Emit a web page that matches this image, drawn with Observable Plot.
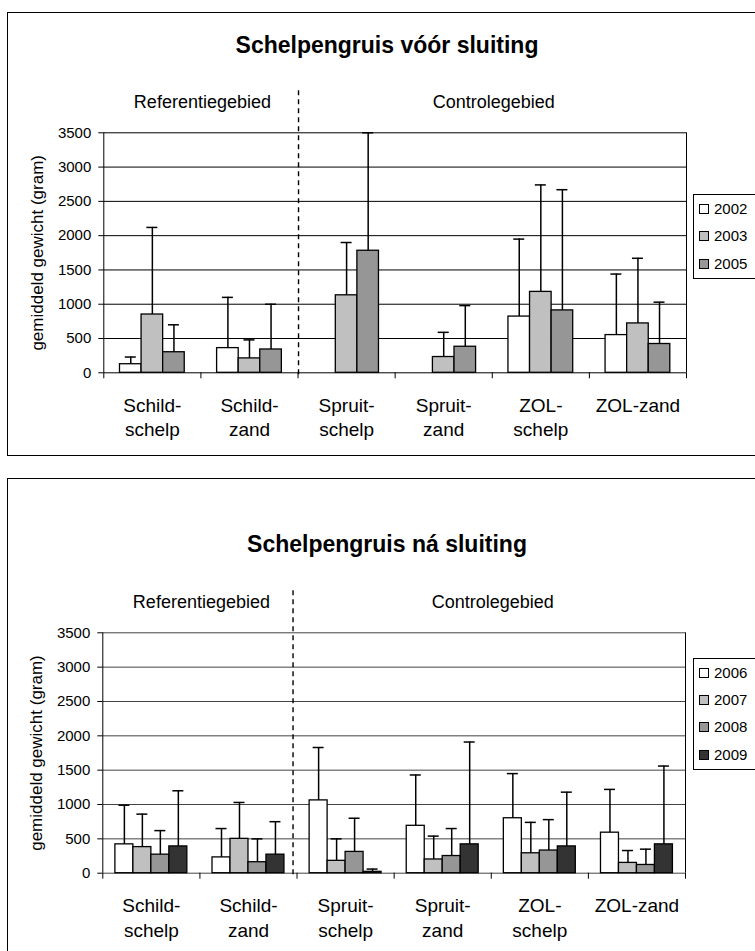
<!DOCTYPE html>
<html>
<head>
<meta charset="utf-8">
<script src="https://cdn.jsdelivr.net/npm/d3@7"></script>
<script src="https://cdn.jsdelivr.net/npm/@observablehq/plot@0.6"></script>
<style>
  html, body { margin: 0; padding: 0; background: #fff; }
  body { width: 755px; height: 951px; position: relative; overflow: hidden;
         font-family: "Liberation Sans", Arial, sans-serif; color: #000; }
  .box { position: absolute; left: 7px; width: 800px; border: 1px solid #000; box-sizing: border-box; }
  .title { position: absolute; left: 0; width: 774px; text-align: center;
           font-weight: bold; font-size: 23px; line-height: 23px; white-space: nowrap; }
  .chart { position: absolute; left: 0; width: 755px; height: 460px; }
  .legend { position: absolute; left: 693px; width: 100px; border: 1px solid #000;
            box-sizing: border-box; background: #fff; }
  .legend .item { position: absolute; left: 5px; height: 18px; display: flex; align-items: center;
                  font-size: 15px; line-height: 18px; }
  .legend .swatch { width: 8px; height: 8px; border: 1px solid #000; margin-right: 5px; }
</style>
</head>
<body>
<script>
// Sampling locations (x axis) and their two-line tick labels
const categories = ["Schild-schelp", "Schild-zand", "Spruit-schelp", "Spruit-zand", "ZOL-schelp", "ZOL-zand"];
const categoryLabels = ["Schild-\nschelp", "Schild-\nzand", "Spruit-\nschelp", "Spruit-\nzand", "ZOL-\nschelp", "ZOL-zand"];
const yTicks = [0, 500, 1000, 1500, 2000, 2500, 3000, 3500];
const yLabel = "gemiddeld gewicht (gram)";

// Area groups above the plot
const regionNames = ["Referentiegebied", "Controlegebied"];
const regionStarts = [0, 2];
const regionEnds = [2, 6];

// Before closure: mean weight and upper error per year
const titleBefore = "Schelpengruis vóór sluiting";
const yearsBefore = ["2002", "2003", "2005"];
const meanBefore2002 = [125, 360, null, null, 820, 550];
const meanBefore2003 = [850, 210, 1130, 230, 1180, 720];
const meanBefore2005 = [300, 340, 1780, 380, 910, 420];
const errBefore2002 = [105, 740, null, null, 1130, 890];
const errBefore2003 = [1270, 270, 770, 360, 1560, 950];
const errBefore2005 = [400, 660, 1720, 600, 1760, 610];
const fillsBefore = ["#ffffff", "#c0c0c0", "#969696"];

// After closure: mean weight and upper error per year
const titleAfter = "Schelpengruis ná sluiting";
const yearsAfter = ["2006", "2007", "2008", "2009"];
const meanAfter2006 = [420, 230, 1060, 690, 800, 590];
const meanAfter2007 = [380, 500, 180, 200, 290, 150];
const meanAfter2008 = [270, 160, 310, 250, 330, 120];
const meanAfter2009 = [390, 270, 20, 420, 390, 420];
const errAfter2006 = [570, 420, 770, 740, 650, 630];
const errAfter2007 = [480, 530, 320, 340, 450, 180];
const errAfter2008 = [350, 340, 490, 400, 450, 230];
const errAfter2009 = [810, 480, 40, 1490, 790, 1140];
const fillsAfter = ["#ffffff", "#c0c0c0", "#969696", "#333333"];

function drawChart(cfg) {
  const box = document.createElement("div");
  box.className = "box";
  box.style.top = cfg.boxTop + "px";
  box.style.height = cfg.boxHeight + "px";
  document.body.appendChild(box);

  const n = cfg.years.length;
  const slots = n + 2 * cfg.groupPad;
  const rows = [];
  cfg.years.forEach((year, j) => {
    categories.forEach((cat, i) => {
      const mean = cfg.means[j][i];
      if (mean == null) return;
      const x1 = i + (cfg.groupPad + j) / slots;
      const x2 = i + (cfg.groupPad + j + 1) / slots;
      rows.push({cat, year, mean, top: mean + cfg.errs[j][i], fill: cfg.fills[j], x1, x2, xc: (x1 + x2) / 2});
    });
  });

  const svg = Plot.plot({
    width: 755,
    height: 460,
    marginTop: cfg.margin.top,
    marginRight: cfg.margin.right,
    marginBottom: cfg.margin.bottom,
    marginLeft: cfg.margin.left,
    x: {domain: [0, categories.length], axis: null},
    y: {domain: [0, 3500], ticks: yTicks, tickSize: 5, tickPadding: 7.5, label: null, tickFormat: d => String(d)},
    color: {type: "identity"},
    style: {background: "transparent", color: "#000", fontFamily: "'Liberation Sans', Arial, sans-serif", fontSize: "15px", overflow: "visible"},
    marks: [
      Plot.ruleY(yTicks, {stroke: cfg.gridColor, strokeWidth: 1}),
      Plot.ruleX([0, categories.length], {stroke: "#000", strokeWidth: 1}),
      Plot.ruleX(d3.range(categories.length + 1), {y1: 0, y2: 0, insetBottom: -6, stroke: "#000"}),
      Plot.ruleX(regionStarts.slice(1), {stroke: "#000", strokeWidth: 1.4, strokeDasharray: "5,4",
                                          insetTop: -42, insetBottom: -5, dx: cfg.dashShift}),
      Plot.rectY(rows, {x1: "x1", x2: "x2", y1: 0, y2: "mean", fill: "fill", stroke: "#000", strokeWidth: 1.3}),
      Plot.ruleX(rows, {x: "xc", y1: "mean", y2: "top", stroke: "#000", strokeWidth: 1.5}),
      Plot.ruleY(rows, {y: "top", x1: "xc", x2: "xc", insetLeft: -5.5, insetRight: -5.5, stroke: "#000", strokeWidth: 1.5}),
      Plot.text(categories, {x: (d, i) => i + 0.5, y: 0, text: (d, i) => categoryLabels[i],
                             lineAnchor: "top", lineHeight: 1.3, dy: 21.2, fontSize: 19}),
      Plot.text(regionNames, {x: (d, i) => (regionStarts[i] + regionEnds[i]) / 2, y: 3500, text: d => d,
                              lineAnchor: "bottom", dy: -25, dx: 1.5, fontSize: 18}),
      Plot.text([yLabel], {frameAnchor: "left", rotate: -90, text: d => d, textAnchor: "middle",
                           lineAnchor: "middle", dx: -66, fontSize: 17})
    ]
  });
  const holder = document.createElement("div");
  holder.className = "chart";
  holder.style.top = cfg.chartTop + "px";
  holder.appendChild(svg);
  document.body.appendChild(holder);

  const title = document.createElement("div");
  title.className = "title";
  title.style.top = cfg.titleTop + "px";
  title.textContent = cfg.title;
  document.body.appendChild(title);

  const legend = document.createElement("div");
  legend.className = "legend";
  legend.style.top = cfg.legendTop + "px";
  legend.style.height = (30 + 27.4 * (n - 1)) + "px";
  cfg.years.forEach((year, j) => {
    const item = document.createElement("div");
    item.className = "item";
    item.style.top = (15 - 9 - 1 + 27.4 * j) + "px";
    const sw = document.createElement("span");
    sw.className = "swatch";
    sw.style.background = cfg.fills[j];
    const label = document.createElement("span");
    label.textContent = year;
    item.appendChild(sw);
    item.appendChild(label);
    legend.appendChild(item);
  });
  document.body.appendChild(legend);
}

drawChart({
  boxTop: 12, boxHeight: 444, chartTop: 0, titleTop: 33.5, legendTop: 194,
  title: titleBefore, years: yearsBefore,
  means: [meanBefore2002, meanBefore2003, meanBefore2005],
  errs: [errBefore2002, errBefore2003, errBefore2005],
  fills: fillsBefore, groupPad: 0.75, gridColor: "#000", dashShift: 0.5,
  margin: {top: 132.3, right: 69, bottom: 87.7, left: 103.3}
});

drawChart({
  boxTop: 478, boxHeight: 500, chartTop: 500, titleTop: 532.5, legendTop: 657.7,
  title: titleAfter, years: yearsAfter,
  means: [meanAfter2006, meanAfter2007, meanAfter2008, meanAfter2009],
  errs: [errAfter2006, errAfter2007, errAfter2008, errAfter2009],
  fills: fillsAfter, groupPad: 0.7, gridColor: "#444", dashShift: -4,
  margin: {top: 132.3, right: 70, bottom: 87.3, left: 102.3}
});
</script>
</body>
</html>
